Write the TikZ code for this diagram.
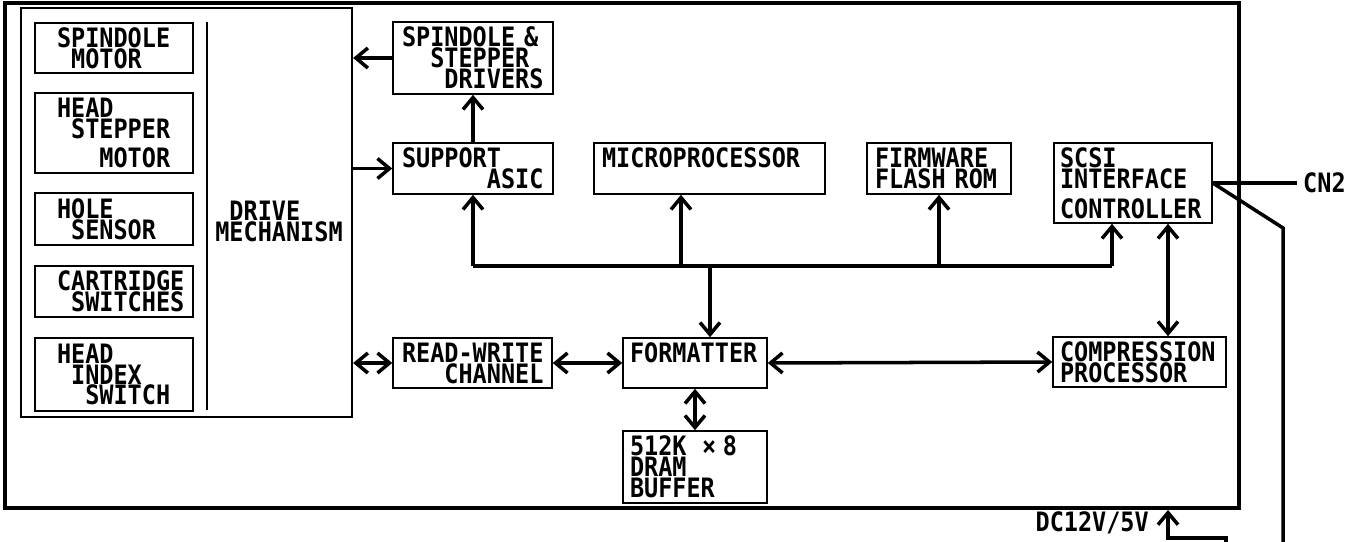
\documentclass[tikz,border=0pt]{standalone}
\usepackage{fontspec}
\usepackage{tikz}
\usetikzlibrary{arrows.meta, calc}
\newfontfamily\gothicfam{DejaVu Sans Mono Bold}[FakeStretch=0.88]
\newcommand{\gothic}{\gothicfam\fontsize{15.2pt}{11.9pt}\selectfont}
\newcommand{\pxu}{0.02cm}
\tikzset{wire/.style={line width=2pt}}
\tikzset{chip/.style={draw, line width=0.9pt, inner xsep=0pt, inner ysep=0pt, align=left, font=\gothic}}
\tikzset{note/.style={font=\gothic}}
\tikzset{>={Straight Barb[length=2.4mm, width=4mm]}}

\begin{document}
\begin{tikzpicture}[x=\pxu, y=-\pxu]
    \useasboundingbox (0,0) rectangle (1366,541);
    \node[draw, line width=2.2pt, minimum width=1234*\pxu, minimum height=505*\pxu] (board) at (622,255.5) {};
    % drive mechanism
    \node[draw, line width=1.3pt, minimum width=331*\pxu, minimum height=409*\pxu] (drive) at (186.5,212.5) {};
    \draw[line width=0.9pt] (207,22) -- (207,410);
    \node[chip, minimum width=158*\pxu, minimum height=50*\pxu, text width=114*\pxu] (smotor) at (114,48) {SPINDOLE\\\phantom{S}MOTOR};
    \node[chip, minimum width=158*\pxu, minimum height=80*\pxu, text width=114*\pxu] (hmotor) at (114,133) {HEAD\\\phantom{H}STEPPER\\[0.18cm]\phantom{HEA}MOTOR};
    \node[chip, minimum width=158*\pxu, minimum height=52*\pxu, text width=114*\pxu] (hsensor) at (114,219) {HOLE\\\phantom{H}SENSOR};
    \node[chip, minimum width=158*\pxu, minimum height=51*\pxu, text width=114*\pxu] (cswitch) at (114,291.5) {CARTRIDGE\\\phantom{C}SWITCHES};
    \node[chip, minimum width=158*\pxu, minimum height=73*\pxu, text width=114*\pxu] (hindex) at (114,374.5) {HEAD\\\phantom{H}INDEX\\\phantom{HE}SWITCH};
    \node[note, align=left, inner sep=0pt] (mech) at (279,221) {\phantom{M}DRIVE\\MECHANISM};
    % electronics
    \node[chip, minimum width=160*\pxu, minimum height=72*\pxu, text width=142*\pxu] (sdrv) at (473,58) {SPINDOLE \&\\\phantom{SP}STEPPER\\\phantom{SPI}DRIVERS};
    \node[chip, minimum width=160*\pxu, minimum height=51*\pxu, text width=142*\pxu] (asic) at (473,168.5) {SUPPORT\\\phantom{SUPPOR}ASIC};
    \node[chip, minimum width=231*\pxu, minimum height=51*\pxu, text width=215*\pxu] (micro) at (709.5,168.5) {MICROPROCESSOR\\\mbox{}};
    \node[chip, minimum width=144*\pxu, minimum height=51*\pxu, text width=128*\pxu] (flash) at (939,168.5) {FIRMWARE\\FLASH ROM};
    \node[chip, minimum width=158*\pxu, minimum height=80*\pxu, text width=146*\pxu] (scsi) at (1133,183) {SCSI\\INTERFACE\\[0.18cm]CONTROLLER};
    \node[chip, minimum width=159*\pxu, minimum height=50*\pxu, text width=141*\pxu] (rw) at (472.5,363) {\mbox{READ-WRITE}\\\phantom{REA}CHANNEL};
    \node[chip, minimum width=144*\pxu, minimum height=50*\pxu, text width=130*\pxu] (fmt) at (695,363) {FORMATTER\\\mbox{}};
    \node[chip, minimum width=144*\pxu, minimum height=72*\pxu, text width=130*\pxu] (dram) at (695,467) {512K \hspace{0.25em}×\hspace{0.25em}8\\DRAM\\BUFFER};
    \node[chip, minimum width=173*\pxu, minimum height=50*\pxu, text width=159*\pxu] (comp) at (1139.5,362) {COMPRESSION\\PROCESSOR};
    \node[note, anchor=west] (cn2) at (1297,183) {CN2};
    \node[note, anchor=east] (dc) at (1155,523) {DC12V/5V};
    % connections
    \draw[wire,->] (sdrv.west) -- (sdrv.west -| drive.east);
    \draw[wire,->] (drive.east |- asic.west) -- (asic.west);
    \draw[wire,->] (asic.north) -- (sdrv.south);
    \coordinate (busL) at (asic.south |- 0,266);
    \coordinate (tapM) at (681,266);
    \coordinate (tapF) at (710,266);
    \coordinate (tapS) at (1112,266);
    \coordinate (tapC) at (1168,300);
    \draw[wire] (busL) -- (tapS);
    \draw[wire,->] (busL) -- (asic.south);
    \draw[wire,->] (tapM) -- (tapM |- micro.south);
    \draw[wire,->] (flash.south |- busL) -- (flash.south);
    \draw[wire,->] (tapS) -- (tapS |- scsi.south);
    \draw[wire,->] (tapF) -- (tapF |- fmt.north);
    \draw[wire,<->] (fmt.south) -- (dram.north);
    \draw[wire,<->] (drive.east |- rw.west) -- (rw.west);
    \draw[wire,<->] (rw.east) -- (fmt.west);
    \draw[wire,<->] (fmt.east) -- (comp.west);
    \draw[wire,<->] (scsi.south -| tapC) -- (comp.north -| tapC);
    \draw[wire] (scsi.east) -- (cn2.west);
    \coordinate (cable) at (1283,545);
    \draw[wire] (scsi.east) -- (1283,228) -- (cable);
    \coordinate (dcin) at (1226,545);
    \draw[wire,->] (dcin) -- ++(0,-7) -| (board.south -| tapC);
\end{tikzpicture}
\end{document}
